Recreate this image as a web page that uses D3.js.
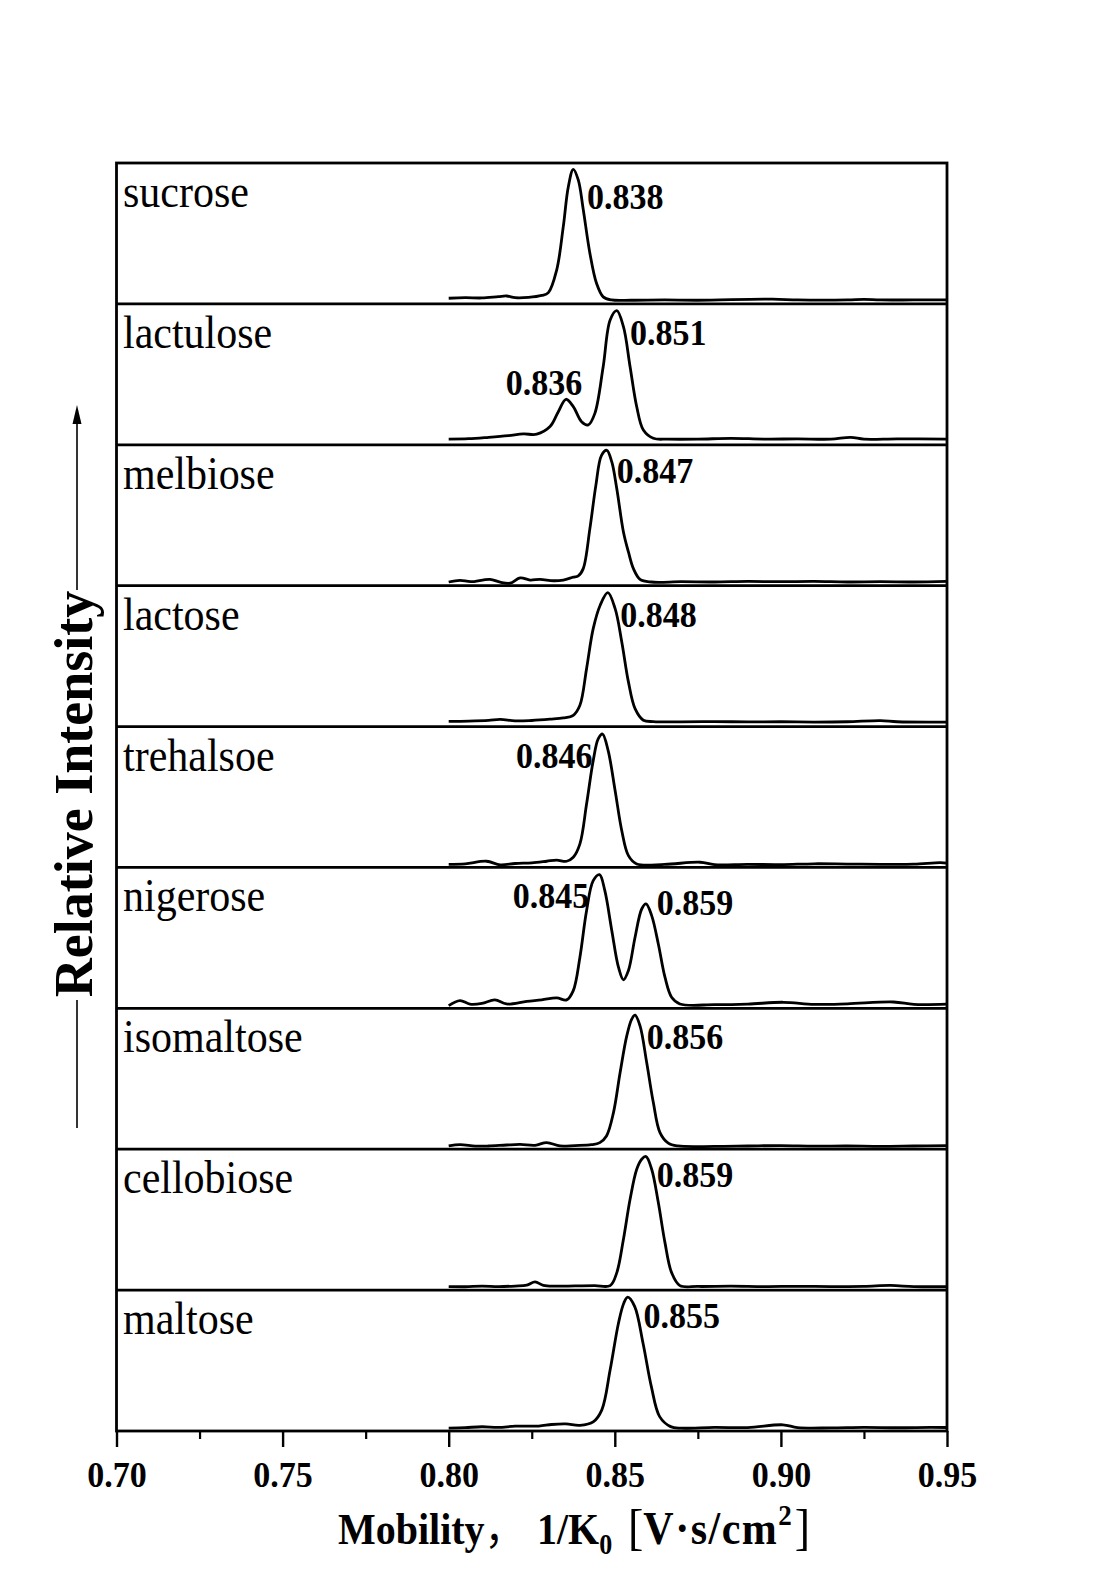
<!DOCTYPE html>
<html><head><meta charset="utf-8">
<script src="https://cdn.jsdelivr.net/npm/d3@7"></script>
<style>
body{margin:0;background:#fff}
svg{display:block}
text{font-family:"Liberation Serif","Times New Roman",serif;fill:#000}
</style>
</head><body>
<svg id="chart" width="1100" height="1580"></svg>
<script>
// ---------------- data ----------------
const categories = ["sucrose","lactulose","melbiose","lactose","trehalsoe","nigerose","isomaltose","cellobiose","maltose"];

const sucrose = [[0.800,4.0],[0.805,4.4],[0.810,4.2],[0.815,5.2],[0.8175,5.6],[0.820,4.4],[0.824,4.6],[0.828,6.0],[0.830,8.0],[0.8325,24],[0.8345,55],[0.836,83],[0.8375,95.5],[0.839,88],[0.8405,67],[0.8425,36],[0.8445,14.6],[0.8465,5],[0.849,2.8],[0.855,2.6],[0.865,2.8],[0.875,2.6],[0.8975,3.4],[0.905,2.8],[0.920,2.8],[0.925,3.2],[0.930,2.8],[0.940,2.8],[0.950,2.8]];
const lactulose = [[0.800,4.0],[0.806,4.3],[0.812,5.3],[0.818,6.5],[0.8225,7.7],[0.8265,7.5],[0.8305,12.9],[0.833,23.5],[0.8353,32.3],[0.8375,27.1],[0.840,16.4],[0.842,14.1],[0.844,22.3],[0.8465,55.4],[0.8486,88.6],[0.8506,95.2],[0.8526,83.8],[0.8546,55.4],[0.8566,27],[0.8586,10.5],[0.8616,4.6],[0.866,4.0],[0.875,4.0],[0.885,4.6],[0.895,4.0],[0.905,4.2],[0.915,4.0],[0.921,5.3],[0.925,4.0],[0.935,4.2],[0.950,4.0]];
const melbiose = [[0.800,2.6],[0.8034,3.8],[0.8066,2.8],[0.8124,4.5],[0.8155,2.5],[0.8185,1.8],[0.8215,5.5],[0.8245,4.0],[0.8275,4.5],[0.8315,3.5],[0.8345,4.0],[0.8375,6.0],[0.839,6.9],[0.8405,12.1],[0.8425,40.5],[0.8443,71.2],[0.846,92.5],[0.8476,96.1],[0.8491,87.8],[0.8506,68.8],[0.8526,38.1],[0.8541,23.9],[0.8556,12.1],[0.8576,4.5],[0.861,2.6],[0.870,2.8],[0.880,2.6],[0.890,3.0],[0.900,2.8],[0.910,3.0],[0.920,2.6],[0.930,2.8],[0.940,2.6],[0.950,3.0]];
const lactose = [[0.800,3.7],[0.806,3.9],[0.812,4.4],[0.8155,5.1],[0.820,4.0],[0.825,4.3],[0.8305,5.2],[0.8345,6.1],[0.8375,8.0],[0.8395,15.1],[0.8415,41.1],[0.8435,69.5],[0.8456,86.1],[0.8479,95.0],[0.8501,83.7],[0.8521,60],[0.8541,31.7],[0.8561,12.7],[0.8586,4.5],[0.8616,3.5],[0.870,3.3],[0.880,3.5],[0.890,3.3],[0.900,3.4],[0.910,3.2],[0.920,3.4],[0.930,4.2],[0.935,3.4],[0.950,3.2]];
const trehalsoe = [[0.800,2.2],[0.805,2.6],[0.8114,4.4],[0.8155,1.8],[0.820,2.8],[0.825,3.3],[0.8295,4.4],[0.8325,5.2],[0.8355,4.4],[0.8375,7.2],[0.8395,16.7],[0.8415,45],[0.8435,75.8],[0.845,91.2],[0.8463,94.7],[0.848,82.9],[0.8501,54.5],[0.8521,26.1],[0.8541,8.4],[0.8566,2.5],[0.865,2.2],[0.8757,3.7],[0.880,2.0],[0.890,2.2],[0.900,2.0],[0.910,2.6],[0.920,2.4],[0.930,2.2],[0.940,2.3],[0.948,3.4],[0.950,3.0]];
const nigerose = [[0.800,1.9],[0.8034,5.5],[0.8064,3.0],[0.810,3.5],[0.8139,6.0],[0.8174,3.1],[0.8235,5.0],[0.828,6.0],[0.8325,7.4],[0.8355,6.0],[0.8375,12.6],[0.8395,36.3],[0.8415,69.3],[0.8435,90.6],[0.8454,94.9],[0.847,83.5],[0.8491,55.1],[0.8511,29.2],[0.8526,20.2],[0.8541,26.8],[0.8561,50.5],[0.8581,70.5],[0.8594,74.1],[0.8611,65.8],[0.8631,45.7],[0.8651,22.1],[0.8671,7.9],[0.8696,3.1],[0.880,2.6],[0.890,3.0],[0.9007,4.3],[0.910,2.8],[0.920,3.2],[0.9339,4.5],[0.940,2.8],[0.950,3.0]];
const isomaltose = [[0.800,2.3],[0.8034,3.2],[0.808,2.2],[0.812,2.3],[0.8174,3.0],[0.8215,3.4],[0.826,2.8],[0.8295,4.7],[0.8335,2.3],[0.838,2.6],[0.843,3.2],[0.8455,4.7],[0.8475,9.4],[0.8496,26],[0.8516,54.4],[0.8536,80.4],[0.8551,92.3],[0.8561,95.1],[0.8576,87.5],[0.8596,61.5],[0.8616,33.1],[0.8636,11.8],[0.8661,4.3],[0.869,2.3],[0.880,2.0],[0.890,2.3],[0.900,2.6],[0.910,2.2],[0.920,2.3],[0.930,2.0],[0.940,2.3],[0.950,2.6]];
const cellobiose = [[0.800,2.5],[0.805,2.4],[0.810,2.8],[0.815,2.5],[0.820,2.9],[0.8235,3.5],[0.826,5.8],[0.8285,3.4],[0.832,2.8],[0.838,3.0],[0.844,3.2],[0.8486,3.2],[0.8506,12.4],[0.8526,36.1],[0.8546,64.5],[0.8566,85.8],[0.8581,92.9],[0.8594,94.8],[0.8611,85.8],[0.8631,62.1],[0.8651,33.7],[0.8671,12.4],[0.8696,3.2],[0.875,2.6],[0.885,2.8],[0.895,2.5],[0.905,2.7],[0.915,2.5],[0.925,2.6],[0.933,3.3],[0.940,2.5],[0.950,2.4]];
const maltose = [[0.800,2.0],[0.805,2.4],[0.810,3.0],[0.815,2.6],[0.820,3.4],[0.8271,3.5],[0.831,4.6],[0.8353,5.0],[0.8395,4.0],[0.8436,6.7],[0.8461,15],[0.8486,43.4],[0.8511,76.5],[0.8527,90.7],[0.8539,95.0],[0.856,88.3],[0.8585,62.3],[0.861,31.5],[0.8635,10.2],[0.8668,3.1],[0.870,2.0],[0.880,2.6],[0.890,2.4],[0.9006,4.4],[0.905,2.4],[0.915,2.2],[0.925,2.6],[0.935,2.3],[0.945,2.6],[0.950,2.5]];

const seriesValues = [sucrose, lactulose, melbiose, lactose, trehalsoe, nigerose, isomaltose, cellobiose, maltose];

// peak annotations: panel, text, mobility value, which side of the peak
const peakPanels = [0,1,1,2,3,4,5,5,6,7,8];
const peakTexts  = ["0.838","0.851","0.836","0.847","0.848","0.846","0.845","0.859","0.856","0.859","0.855"];
const peakValues = [0.838,0.851,0.836,0.847,0.848,0.846,0.845,0.859,0.856,0.859,0.855];
const peakSides  = ["right","right","above","right","right","left","left","right","right","right","right"];

const xMajorTicks = [0.70,0.75,0.80,0.85,0.90,0.95];
const xMinorTicks = [0.725,0.775,0.825,0.875,0.925];
const xTickLabels = ["0.70","0.75","0.80","0.85","0.90","0.95"];

// ---------------- layout ----------------
const L = 116.5, R = 947, T = 163, B = 1431;
const svg = d3.select("#chart");
svg.append("rect").attr("width",1100).attr("height",1580).attr("fill","#fff");

const x = d3.scaleLinear().domain([0.70,0.95]).range([L,R]);
const band = d3.scaleBand().domain(categories).range([T,B]).padding(0);
const yFor = c => d3.scaleLinear().domain([0,100]).range([band(c)+band.bandwidth(), band(c)]);

const line = d3.line().curve(d3.curveCatmullRom.alpha(0.5));

// traces
categories.forEach((c,i) => {
  const y = yFor(c);
  svg.append("path")
    .attr("d", line.x(d => x(d[0])).y(d => y(d[1]))(seriesValues[i]))
    .attr("fill","none").attr("stroke","#000").attr("stroke-width",2.8)
    .attr("stroke-linejoin","round");
  svg.append("text")
    .attr("transform",`translate(${L + 6.5},${band(c) + 44}) scale(1,1.08)`)
    .attr("font-size", 42).text(c);
});

// panel dividers
svg.selectAll("line.div").data(categories.slice(1)).join("line")
  .attr("x1",L).attr("x2",R).attr("y1",d=>band(d)).attr("y2",d=>band(d))
  .attr("stroke","#000").attr("stroke-width",2.8);

// frame
svg.append("rect").attr("x",L).attr("y",T).attr("width",R-L).attr("height",B-T)
  .attr("fill","none").attr("stroke","#000").attr("stroke-width",2.8);

// peak labels
peakTexts.forEach((t,k) => {
  const c = categories[peakPanels[k]];
  const px = x(peakValues[k]);
  const side = peakSides[k];
  let tx, anchor, dy = 41;
  if (side === "right") { tx = px + 12; anchor = "start"; }
  else if (side === "left") { tx = px - 9; anchor = "end"; }
  else { tx = px + 14; anchor = "end"; dy = 91; }
  if (t === "0.838") dy = 46;
  if (peakPanels[k] === 5 && side === "right") dy = 48;
  if (peakPanels[k] === 2 || peakPanels[k] === 7 || peakPanels[k] === 8) dy = 38;
  svg.append("text").attr("transform",`translate(${tx},${band(c)+dy}) scale(1,1.05)`)
    .attr("text-anchor",anchor).attr("font-size",34).attr("font-weight","bold").text(t);
});

// x axis
const axMajor = d3.axisBottom(x).tickValues(xMajorTicks).tickSize(16).tickSizeOuter(0)
  .tickPadding(17).tickFormat((d,i)=>xTickLabels[i]);
const gx = svg.append("g").attr("transform",`translate(0,${B})`).call(axMajor);
gx.select(".domain").remove();
gx.selectAll(".tick line").attr("stroke","#000").attr("stroke-width",2.4);
gx.selectAll(".tick text").attr("font-size",34).attr("font-weight","bold")
  .attr("font-family","'Liberation Serif','Times New Roman',serif").attr("fill","#000")
  .attr("y",null).attr("dy",null)
  .attr("transform","translate(0,56) scale(1,1.08)");
const axMinor = d3.axisBottom(x).tickValues(xMinorTicks).tickSize(8).tickSizeOuter(0).tickFormat("");
const gm = svg.append("g").attr("transform",`translate(0,${B})`).call(axMinor);
gm.select(".domain").remove();
gm.selectAll(".tick line").attr("stroke","#000").attr("stroke-width",2.2);

// x axis title
const tg = svg.append("g").attr("transform","translate(338,1544) scale(1,1.1)");
const title = tg.append("text").attr("font-size",40).attr("font-weight","bold");
title.append("tspan").attr("x",0).text("Mobility");
title.append("tspan").attr("font-family","'Noto Sans CJK SC'").attr("font-weight","normal").text("，");
title.append("tspan").attr("x",199).text("1/K");
title.append("tspan").attr("font-size",26).attr("dy",9).text("0");
title.append("tspan").attr("x",290).attr("dy",-9).attr("font-weight","normal").attr("font-size",46).text("[");
title.append("tspan").attr("font-size",42).attr("letter-spacing",1.5).text("V·s/cm");
title.append("tspan").attr("font-size",27).attr("dy",-17).text("2");
title.append("tspan").attr("dy",17).attr("dx",3).attr("font-weight","normal").attr("font-size",46).text("]");

// y axis title with arrow
const yMid = 794, lx = 77;
svg.append("line").attr("x1",lx).attr("x2",lx).attr("y1",1128).attr("y2",1000).attr("stroke","#000").attr("stroke-width",1.6);
svg.append("line").attr("x1",lx).attr("x2",lx).attr("y1",590).attr("y2",420).attr("stroke","#000").attr("stroke-width",1.6);
svg.append("path").attr("d",`M${lx},405 L${lx-4.5},424 L${lx+4.5},424 Z`).attr("fill","#000");
svg.append("text").attr("transform",`translate(92,${yMid}) rotate(-90)`)
  .attr("text-anchor","middle").attr("font-size",54).attr("font-weight","bold").text("Relative Intensity");
</script>
</body></html>
